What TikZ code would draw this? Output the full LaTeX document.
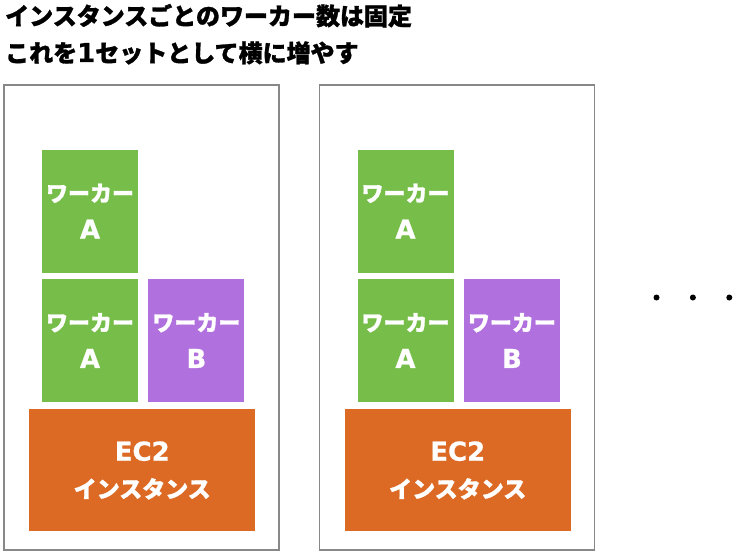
\documentclass[tikz,border=0pt]{standalone}
\usepackage{fontspec}
\newfontfamily\jp{Noto Sans CJK JP}[BoldFeatures={FakeBold=1.2}]
\newfontfamily\lat{DejaVu Sans}[BoldFeatures={FakeBold=0.8}]
\newcommand\lt[1]{{\lat\bfseries\fontsize{26}{37}\selectfont #1}}
\usetikzlibrary{positioning}
\definecolor{wkgreen}{RGB}{118,190,73}
\definecolor{wkpurple}{RGB}{176,112,222}
\definecolor{ec2orange}{RGB}{220,106,36}
\definecolor{framegray}{RGB}{136,136,136}
\tikzset{
  frame/.style  ={rectangle, draw=framegray, line width=1.5pt,
                  minimum width=275pt, minimum height=465pt, inner sep=0pt},
  worker/.style ={rectangle, text=white, align=center, inner sep=0pt,
                  minimum width=96pt, minimum height=123pt,
                  font=\jp\bfseries\fontsize{22}{37}\selectfont},
  wka/.style    ={worker, fill=wkgreen},
  wkb/.style    ={worker, fill=wkpurple},
  ec2/.style    ={worker, fill=ec2orange, minimum width=226pt, minimum height=122pt,
                  font=\jp\bfseries\fontsize{23}{37}\selectfont},
  title/.style  ={anchor=base west, inner sep=0pt,
                  font=\jp\bfseries\fontsize{24}{37}\selectfont},
  dot/.style    ={circle, fill=black, inner sep=0pt, minimum size=6pt},
}

\begin{document}
\begin{tikzpicture}[x=1pt, y=1pt]
\useasboundingbox (0,0) rectangle (751,-551);

\node[title] (head1) at (5,-25) {インスタンスごとのワーカー数は固定};
\node[title] (head2) at (5,-62) {これを\lt{1}セットとして横に増やす};

% first set
\node[frame] (set1) at (141.5,-317.5) {};
\node[wka] (a1) at (90,-340.5) {ワーカー\\\lt{A}};
\node[wkb, right=10pt of a1] (b1) {ワーカー\\\lt{B}};
\node[wka, above=6pt of a1] (a1top) {ワーカー\\\lt{A}};
\node[ec2, below=7pt of a1.south east, xshift=4pt] (inst1) {\lt{EC2}\\インスタンス};

% second set
\node[frame] (set2) at (457,-317.5) {};
\node[wka] (a2) at (405.5,-340.5) {ワーカー\\\lt{A}};
\node[wkb, right=10pt of a2] (b2) {ワーカー\\\lt{B}};
\node[wka, above=6pt of a2] (a2top) {ワーカー\\\lt{A}};
\node[ec2, below=7pt of a2.south east, xshift=4pt] (inst2) {\lt{EC2}\\インスタンス};

% more sets
\node[dot] (more1) at (656.5,-297.5) {};
\node[dot, right=30pt of more1] (more2) {};
\node[dot, right=30pt of more2] (more3) {};

\end{tikzpicture}
\end{document}
